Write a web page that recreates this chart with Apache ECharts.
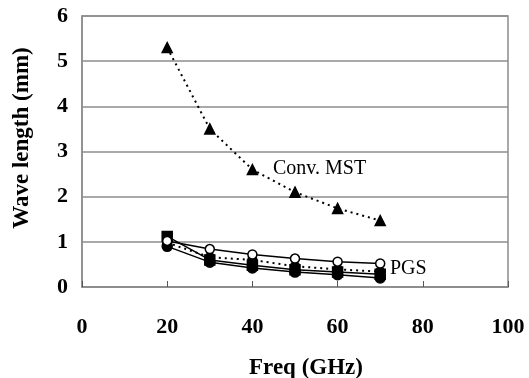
<!DOCTYPE html>
<html><head><meta charset="utf-8">
<script src="https://cdn.jsdelivr.net/npm/echarts@6/dist/echarts.min.js"></script>
<style>html,body{margin:0;padding:0;background:#fff}#c{width:529px;height:378px}</style>
</head><body><div id="c"></div>
<script>
var freq = [20, 30, 40, 50, 60, 70];
var convMST = [5.3, 3.5, 2.6, 2.1, 1.74, 1.47];
var pgsOpenCircle = [1.02, 0.84, 0.72, 0.63, 0.56, 0.52];
var pgsDotted = [0.98, 0.66, 0.6, 0.46, 0.39, 0.34];
var pgsSquare = [1.12, 0.6, 0.48, 0.38, 0.33, 0.28];
var pgsDiamond = [0.9, 0.55, 0.42, 0.33, 0.27, 0.2];
var xTicks = [0, 20, 40, 60, 80, 100];
var yTicks = [0, 1, 2, 3, 4, 5, 6];
var xName = 'Freq (GHz)';
var yName = 'Wave length (mm)';

function pairs(v){ return freq.map(function(f,i){return [f, v[i]];}); }
var font = '"Liberation Serif", "DejaVu Serif", serif';
var chart = echarts.init(document.getElementById('c'), null, {renderer:'canvas'});
function s(name, data, sym, size, fill, ltype, lw){
  return {name:name, type:'line', data:pairs(data), symbol:sym, symbolSize:size,
    showAllSymbol:true, animation:false,
    lineStyle:{color:'#000', width:lw, type:ltype},
    itemStyle:{color:fill, borderColor:'#000', borderWidth:1.5}};
}
chart.setOption({
  animation:false,
  grid:{left:82, right:21, top:16, bottom:91, containLabel:false, outerBoundsMode:'none',
    show:true, borderColor:'#8c8c8c', borderWidth:1.5},
  xAxis:{type:'value', min:xTicks[0], max:xTicks[xTicks.length-1], interval:20,
    axisLine:{lineStyle:{color:'#8c8c8c', width:1.5}},
    axisTick:{show:true, inside:true, length:6, lineStyle:{color:'#555'}},
    splitLine:{show:false},
    axisLabel:{margin:29, fontFamily:font, fontWeight:'bold', fontSize:22, color:'#000'}},
  yAxis:{type:'value', min:yTicks[0], max:yTicks[yTicks.length-1], interval:1,
    axisLine:{lineStyle:{color:'#8c8c8c', width:1.5}},
    axisTick:{show:false},
    splitLine:{lineStyle:{color:'#8c8c8c', width:1.5}},
    axisLabel:{margin:14, fontFamily:font, fontWeight:'bold', fontSize:22, color:'#000'}},
  series:[
    s('Conv. MST', convMST, 'triangle', 10, '#000', [2,4], 2),
    s('PGS dotted', pgsDotted, 'circle', 9, '#000', [2,4], 2),
    s('PGS square', pgsSquare, 'rect', 10, '#000', 'solid', 1.5),
    s('PGS diamond', pgsDiamond, 'circle', 10, '#000', 'solid', 1.5),
    s('PGS open', pgsOpenCircle, 'circle', 9, '#fff', 'solid', 1.5)
  ],
  graphic:[
    {type:'text', x:22, y:138, rotation:Math.PI/2,
      style:{text:yName, font:'bold 23px '+font, fill:'#000', align:'center', verticalAlign:'middle'}},
    {type:'text', x:306, y:368,
      style:{text:xName, font:'bold 23px '+font, fill:'#000', align:'center', verticalAlign:'middle'}},
    {type:'text', left:273, top:159, style:{text:'Conv. MST', font:'20px '+font, fill:'#000'}},
    {type:'text', left:390, top:259, style:{text:'PGS', font:'20px '+font, fill:'#000'}}
  ]
});
</script></body></html>
